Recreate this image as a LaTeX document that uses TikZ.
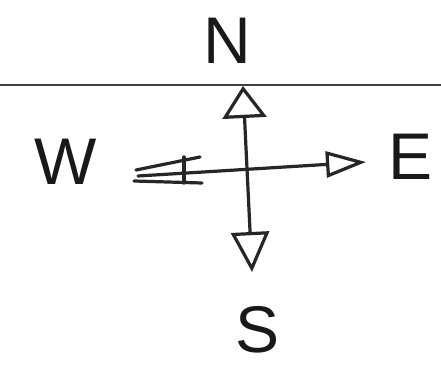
\documentclass[tikz,border=0pt]{standalone}
\usepackage{fontspec}
\setmainfont{Liberation Sans}
\usetikzlibrary{arrows.meta}
\tikzset{
  ink/.style={draw=black!85, line width=3.2pt, line cap=round, line join=round},
  letter/.style={inner sep=0pt, font=\fontsize{66}{66}\selectfont, text=black!90},
  rule/.style={draw=black!75, line width=2pt}
}
\begin{document}
\begin{tikzpicture}[x=1pt,y=-1pt]
\useasboundingbox (0,0) rectangle (441,369);
\fill[white] (0,0) rectangle (441,369);
% horizon line
\coordinate (hl) at (0,85);
\coordinate (hr) at (441,85);
\draw[rule] (hl) -- (hr);
% labels
\node[letter] (N) at (227,41) {N};
\node[letter] (S) at (258,330) {S};
\node[letter] (W) at (66,162) {W};
\node[letter] (E) at (411,157) {E};
% vertical arrow
\coordinate (ntip) at (243,86);
\coordinate (stip) at (252,272);
\draw[ink, {Triangle[open,length=32pt,width=44pt]}-{Triangle[open,length=40pt,width=38pt]}] (ntip) -- (stip);
% horizontal arrow
\coordinate (wend) at (138,176);
\coordinate (etip) at (366,162);
\draw[ink, -{Triangle[open,length=40pt,width=26pt]}] (wend) -- (etip);
% feathers
\coordinate (w1) at (136,170);
\coordinate (w2) at (134,181);
\coordinate (f1) at (200,157);
\coordinate (f2) at (202,183);
\coordinate (fb1) at (184,157);
\coordinate (fb2) at (184,183);
\draw[ink] (w1) -- (f1);
\draw[ink] (w2) -- (f2);
\draw[ink] (fb1) -- (fb2);
\end{tikzpicture}
\end{document}
